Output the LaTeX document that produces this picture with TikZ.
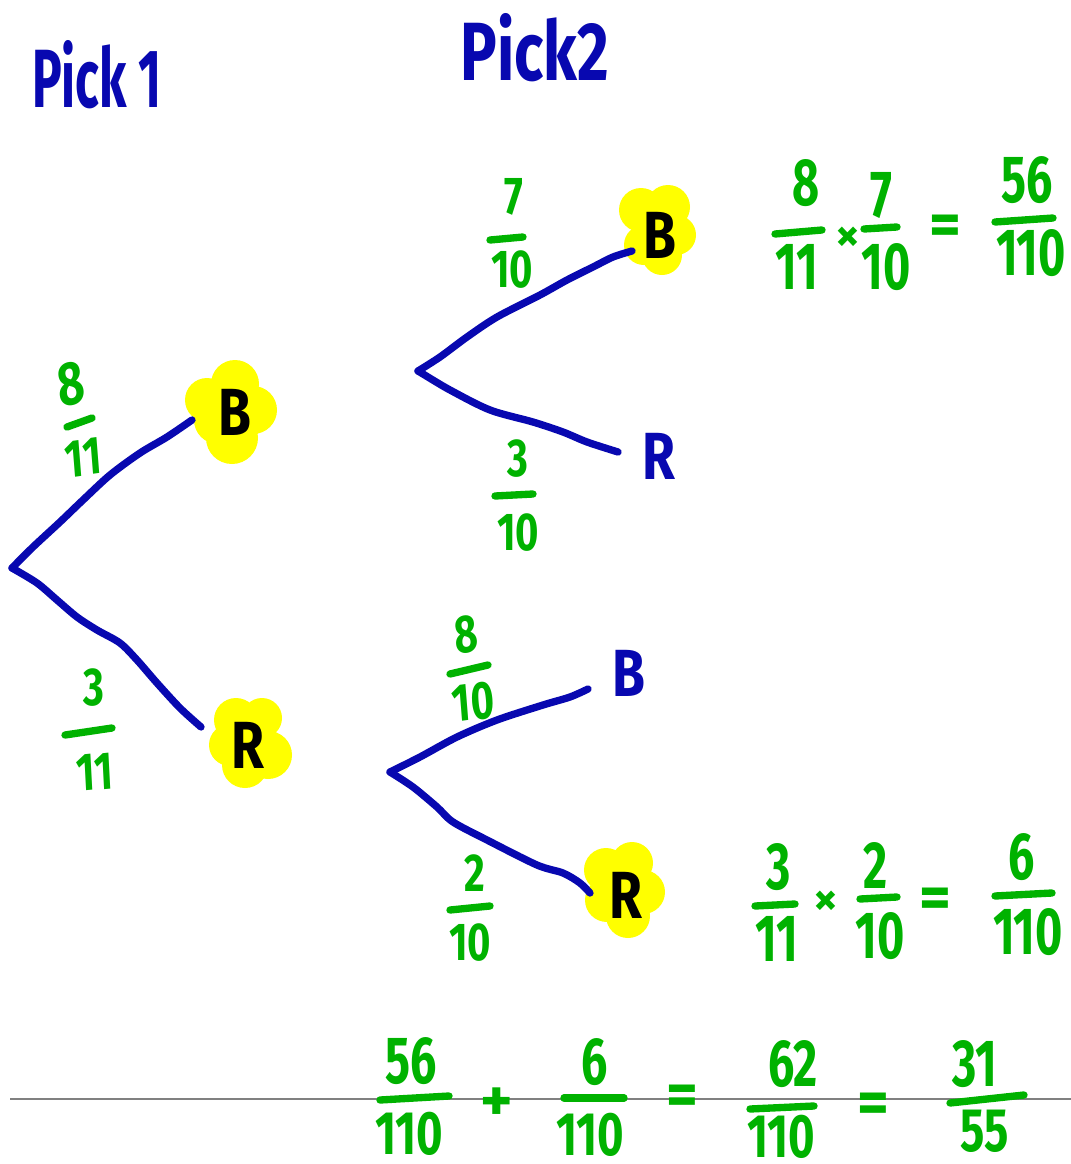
\documentclass[tikz,border=0pt]{standalone}
\usepackage{fontspec}
\setmainfont{Fira Sans}
\definecolor{penblue}{RGB}{8,8,176}
\definecolor{pengreen}{RGB}{0,178,0}
\definecolor{hilite}{RGB}{255,255,0}
\definecolor{rulegray}{RGB}{128,128,128}
\tikzset{
  branch/.style={draw=penblue, line width=5.5pt, line cap=round, line join=round},
  fbar/.style={draw=pengreen, line width=5.5pt, line cap=round},
  picklbl/.style={text=penblue, font=\fontsize{62}{62}\selectfont\bfseries, inner sep=0pt},
  leaf/.style={font=\fontsize{50}{50}\selectfont\bfseries, inner sep=0pt, xscale=0.8},
  tdig/.style={text=pengreen, font=\fontsize{40}{40}\selectfont\bfseries, inner sep=0pt, xscale=0.75},
  bdig/.style={text=pengreen, font=\fontsize{50}{50}\selectfont\bfseries, inner sep=0pt, xscale=0.7},
  bdigsm/.style={text=pengreen, font=\fontsize{46}{46}\selectfont\bfseries, inner sep=0pt, xscale=0.74},
  opsym/.style={text=pengreen, font=\fontsize{46}{46}\selectfont\bfseries, inner sep=0pt},
  timessym/.style={text=pengreen, font=\fontsize{36}{36}\selectfont\bfseries, inner sep=0pt},
  blob/.style={fill=hilite, draw=none},
}
\begin{document}
\begin{tikzpicture}[x=0.75pt,y=-0.75pt]
\useasboundingbox (0,0) rectangle (1071,1164);

% headings
\node[picklbl, xscale=0.6] (pickone) at (97,75) {Pick 1};
\node[picklbl, xscale=0.74] (picktwo) at (535,48) {Pick2};

% yellow highlights
\foreach \cx/\cy/\r in {207/400/22, 235/384/24, 253/410/24, 232/438/26, 218/420/24, 240/412/28}
  \fill[blob] (\cx,\cy) circle[radius=\r*0.75pt];
\foreach \cx/\cy/\r in {236/720/22, 262/718/20, 268/755/24, 245/765/23, 230/745/21, 250/742/28}
  \fill[blob] (\cx,\cy) circle[radius=\r*0.75pt];
\foreach \cx/\cy/\r in {641/210/22, 668/207/22, 676/235/20, 662/255/20, 644/245/20, 658/230/26}
  \fill[blob] (\cx,\cy) circle[radius=\r*0.75pt];
\foreach \cx/\cy/\r in {606/870/22, 632/863/21, 643/892/22, 628/916/22, 607/900/22, 624/890/27}
  \fill[blob] (\cx,\cy) circle[radius=\r*0.75pt];

% tree points
\coordinate (root) at (12,568);
\coordinate (endBone) at (192,420);
\coordinate (endRone) at (201,727);
\coordinate (forkT) at (418,371);
\coordinate (endBtwo) at (632,251);
\coordinate (endRtop) at (618,452);
\coordinate (forkB) at (390,772);
\coordinate (endBbot) at (588,689);
\coordinate (endRtwo) at (590,893);

% branches
\draw[branch] plot[smooth, tension=0.5] coordinates {(root) (33,547) (60,522) (83,500) (110,475) (140,453) (167,437) (endBone)};
\draw[branch] plot[smooth, tension=0.5] coordinates {(root) (37,583) (57,600) (77,617) (97,630) (120,643) (137,660) (157,683) (180,708) (endRone)};
\draw[branch] plot[smooth, tension=0.5] coordinates {(forkT) (440,357) (467,337) (497,317) (540,295) (567,280) (593,267) (613,257) (endBtwo)};
\draw[branch] plot[smooth, tension=0.5] coordinates {(forkT) (423,374) (450,390) (490,410) (533,422) (563,432) (587,442) (endRtop)};
\draw[branch] plot[smooth, tension=0.5] coordinates {(forkB) (420,757) (457,737) (497,720) (543,705) (570,697) (endBbot)};
\draw[branch] plot[smooth, tension=0.5] coordinates {(forkB) (413,787) (437,807) (453,822) (487,840) (537,865) (563,873) (580,883) (endRtwo)};

% leaf letters
\node[leaf, text=black] (Bone) at (235,412) {B};
\node[leaf, text=black] (Rone) at (248,745) {R};
\node[leaf, text=black] (Btwo) at (660,235) {B};
\node[leaf, text=penblue] (Rtop) at (659,456) {R};
\node[leaf, text=penblue] (Bbot) at (629,673) {B};
\node[leaf, text=black] (Rtwo) at (626,895) {R};

% tree fractions
\node[tdig, font=\fontsize{46}{46}\selectfont\bfseries, rotate=10] (pBn) at (71,384) {8};
\draw[fbar] (67,427) -- (92,418);
\node[tdig, rotate=6] (pBd) at (83,458) {11};

\node[tdig] (pRn) at (94,688) {3};
\draw[fbar] (65,735) -- (112,728);
\node[tdig, rotate=4] (pRd) at (95,772) {11};

\node[tdig] (qBBn) at (514,197) {7};
\draw[fbar] (490,240) -- (523,237);
\node[tdig] (qBBd) at (512,270) {10};

\node[tdig] (qBRn) at (518,459) {3};
\draw[fbar] (495,496) -- (533,494);
\node[tdig] (qBRd) at (518,533) {10};

\node[tdig, rotate=8] (qRBn) at (466,635) {8};
\draw[fbar] (450,674) -- (488,665);
\node[tdig, rotate=6] (qRBd) at (473,702) {10};

\node[tdig] (qRRn) at (475,873) {2};
\draw[fbar] (450,910) -- (490,906);
\node[tdig] (qRRd) at (470,943) {10};

% right: top product
\node[bdig] (aone) at (806,183) {8};
\draw[fbar] (775,234) -- (822,230);
\node[bdig] (atwo) at (797,267) {11};
\node[timessym] (atimes) at (848,239) {×};
\node[bdig] (athree) at (881,195) {7};
\draw[fbar] (864,229) -- (897,227);
\node[bdig] (afour) at (886,267) {10};
\node[opsym] (aeq) at (945,230) {=};
\node[bdig] (afive) at (1027,180) {56};
\draw[fbar] (995,222) -- (1053,218);
\node[bdig] (asix) at (1031,253) {110};

% right: bottom product
\node[bdig] (bone) at (779,867) {3};
\draw[fbar] (755,906) -- (795,904);
\node[bdig] (btwo) at (777,939) {11};
\node[timessym] (btimes) at (826,903) {×};
\node[bdig] (bthree) at (876,865) {2};
\draw[fbar] (860,899) -- (897,897);
\node[bdig] (bfour) at (880,936) {10};
\node[opsym] (beq) at (935,903) {=};
\node[bdig] (bfive) at (1022,857) {6};
\draw[fbar] (995,896) -- (1052,893);
\node[bdig] (bsix) at (1028,932) {110};

% bottom rule
\draw[rulegray, line width=1.5pt] (10,1099) -- (1071,1099);

% bottom sum
\node[bdig] (cone) at (411,1061) {56};
\draw[fbar] (380,1100) -- (449,1096);
\node[bdigsm] (ctwo) at (409,1134) {110};
\node[opsym] (cplus) at (497,1105) {+};
\node[bdig] (cthree) at (595,1062) {6};
\draw[fbar] (564,1098) -- (624,1098);
\node[bdigsm] (cfour) at (590,1135) {110};
\node[opsym] (ceq) at (682,1100) {=};
\node[bdig] (cfive) at (793,1064) {62};
\draw[fbar] (750,1109) -- (814,1106);
\node[bdigsm] (csix) at (781,1137) {110};
\node[opsym] (ceqtwo) at (873,1108) {=};
\node[bdig] (cseven) at (975,1064) {31};
\draw[fbar] (950,1103) -- (1024,1095);
\node[bdigsm] (ceight) at (985,1131) {55};
\end{tikzpicture}
\end{document}
